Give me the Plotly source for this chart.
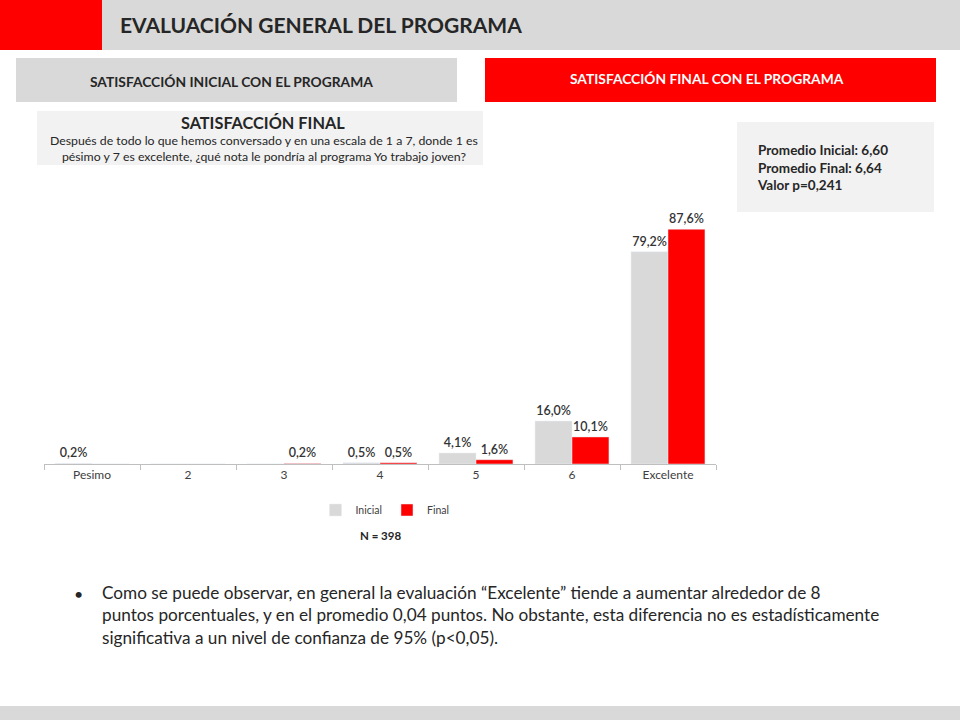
import plotly.graph_objects as go

categories = ["Pesimo", "2", "3", "4", "5", "6", "Excelente"]
inicial = [0.2, 0, 0, 0.5, 4.1, 16.0, 79.2]
final = [0, 0, 0.2, 0.5, 1.6, 10.1, 87.6]

def fmt(vals):
    return [(f"{v:.1f}%".replace(".", ",") if v > 0 else "") for v in vals]

W, H = 960, 720
FONT = "Lato"
DARK = "#262626"

def px(x):
    return x / W

def py(y):
    return 1 - y / H

label_font = dict(family=FONT, size=12.5, color="#333333", weight=600)

fig = go.Figure()
fig.add_trace(go.Bar(name="Inicial", x=categories, y=inicial, marker_color="#D9D9D9",
                     text=fmt(inicial), textposition="outside", cliponaxis=False,
                     textfont=label_font))
fig.add_trace(go.Bar(name="Final", x=categories, y=final, marker_color="#FF0000",
                     text=fmt(final), textposition="outside", cliponaxis=False,
                     textfont=label_font))

shapes = [
    dict(type="rect", xref="paper", yref="paper", x0=0, x1=1, y0=py(50), y1=1,
         fillcolor="#D9D9D9", line_width=0, layer="below"),
    dict(type="rect", xref="paper", yref="paper", x0=0, x1=px(102), y0=py(50), y1=1,
         fillcolor="#FF0000", line_width=0, layer="below"),
    dict(type="rect", xref="paper", yref="paper", x0=px(16), x1=px(457), y0=py(102), y1=py(58),
         fillcolor="#D9D9D9", line_width=0, layer="below"),
    dict(type="rect", xref="paper", yref="paper", x0=px(485), x1=px(936), y0=py(102), y1=py(58),
         fillcolor="#FF0000", line_width=0, layer="below"),
    dict(type="rect", xref="paper", yref="paper", x0=px(37), x1=px(483), y0=py(165), y1=py(111),
         fillcolor="#F2F2F2", line_width=0, layer="below"),
    dict(type="rect", xref="paper", yref="paper", x0=px(737), x1=px(934), y0=py(212), y1=py(122),
         fillcolor="#F2F2F2", line_width=0, layer="below"),
    dict(type="rect", xref="paper", yref="paper", x0=0, x1=1, y0=0, y1=py(706),
         fillcolor="#D9D9D9", line_width=0, layer="below"),
]

def ann(text, x, y, size, color=DARK, bold=False, xanchor="left", align="left"):
    t = f"<b>{text}</b>" if bold else text
    return dict(text=t, x=px(x), y=py(y), xref="paper", yref="paper", xanchor=xanchor,
                yanchor="middle", align=align, showarrow=False,
                font=dict(family=FONT, size=size, color=color))

annotations = [
    ann("EVALUACIÓN GENERAL DEL PROGRAMA", 118, 25, 21, bold=True),
    ann("SATISFACCIÓN INICIAL CON EL PROGRAMA", 231, 81, 13.8, bold=True, xanchor="center"),
    ann("SATISFACCIÓN FINAL CON EL PROGRAMA", 707, 78, 13.8, color="white", bold=True, xanchor="center"),
    ann("SATISFACCIÓN FINAL", 263, 122, 16.3, bold=True, xanchor="center"),
    ann("Después de todo lo que hemos conversado y en una escala de 1 a 7, donde 1 es<br>"
        "pésimo y 7 es excelente, ¿qué nota le pondría al programa Yo trabajo joven?",
        264, 149, 12.3, xanchor="center", align="center"),
    ann("Promedio Inicial: 6,60<br>Promedio Final: 6,64<br>Valor p=0,241", 755, 167, 13.5, bold=True),
    ann("N = 398", 380, 535, 11.5, bold=True, xanchor="center"),
    ann("•", 72, 593, 16),
    ann("Como se puede observar, en general la evaluación “Excelente” tiende a aumentar alrededor de 8<br>"
        "puntos porcentuales, y en el promedio 0,04 puntos. No obstante, esta diferencia no es estadísticamente<br>"
        "significativa a un nivel de confianza de 95% (p<0,05).", 100, 615, 17.2),
]

fig.update_layout(
    width=W, height=H,
    margin=dict(l=0, r=0, t=0, b=0),
    paper_bgcolor="white", plot_bgcolor="white",
    barmode="group", bargap=0.23, bargroupgap=0,
    showlegend=True,
    legend=dict(orientation="h", x=px(385), xanchor="center", y=py(510), yanchor="middle",
                font=dict(family=FONT, size=10.5, color="#404040"), itemwidth=30,
                traceorder="normal"),
    xaxis=dict(domain=[px(44), px(716)], type="category", showline=True, linecolor="#BFBFBF",
               ticks="outside", tickson="boundaries", ticklen=5, tickcolor="#BFBFBF",
               tickfont=dict(family=FONT, size=12, color="#404040"), showgrid=False),
    yaxis=dict(domain=[py(464), py(196)], range=[0, 100], visible=False, showgrid=False),
    shapes=shapes, annotations=annotations,
    font=dict(family=FONT),
)

fig.write_html("out.html", config={"displayModeBar": False},
               post_script="document.body.style.margin='0px';")
